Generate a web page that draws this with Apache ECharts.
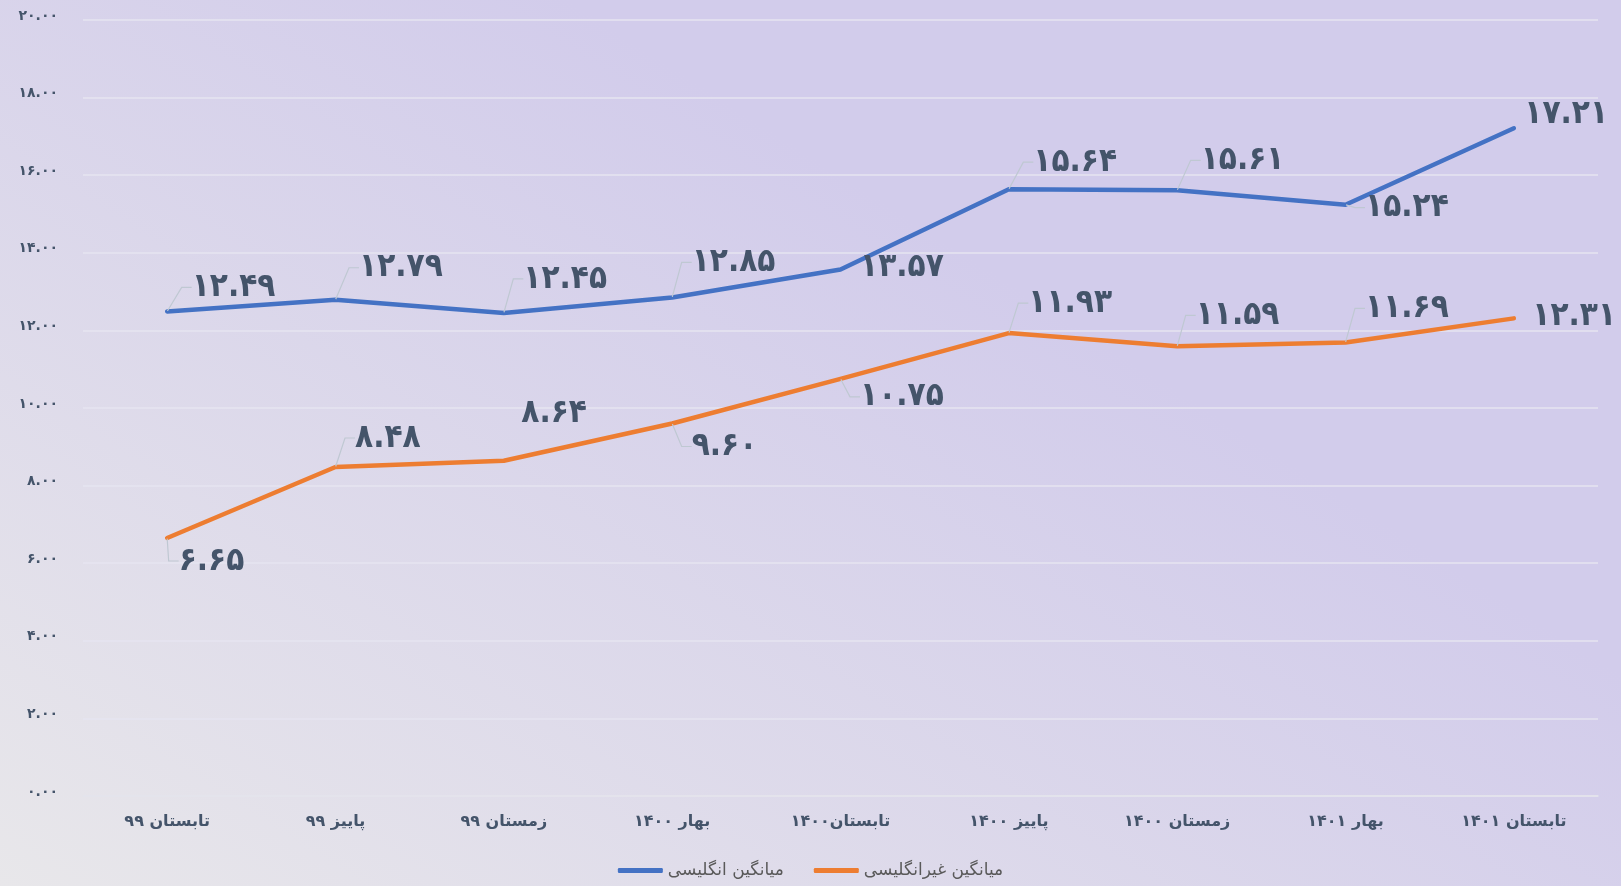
<!DOCTYPE html>
<html lang="fa">
<head>
<meta charset="utf-8">
<title>میانگین نمرات</title>
<script src="https://cdn.jsdelivr.net/npm/echarts@6/dist/echarts.min.js"></script>
<style>
  html, body { margin: 0; padding: 0; width: 100%; height: 100%; overflow: hidden; }
  #chart { width: 1621px; height: 886px; }
</style>
</head>
<body>
<div id="chart"></div>
<script>
// دسته‌ها (فصل‌ها)
const categories = ['تابستان ۹۹', 'پاییز ۹۹', 'زمستان ۹۹', 'بهار ۱۴۰۰', 'تابستان۱۴۰۰', 'پاییز ۱۴۰۰', 'زمستان ۱۴۰۰', 'بهار ۱۴۰۱', 'تابستان ۱۴۰۱']

// میانگین انگلیسی
const englishAvg = [12.49, 12.79, 12.45, 12.85, 13.57, 15.64, 15.61, 15.24, 17.21]

// میانگین غیرانگلیسی
const nonEnglishAvg = [6.65, 8.48, 8.64, 9.60, 10.75, 11.93, 11.59, 11.69, 12.31]

const seriesNames = ['میانگین انگلیسی', 'میانگین غیرانگلیسی']

// محور عمودی
const yMin = 0
const yMax = 20
const yStep = 2

// جابجایی برچسب‌ها نسبت به نقطه [dx, dy]
const englishLabelShift = [[19, -24], [18, -32], [14, -34], [14, -35], [14, -2], [19, -27], [18, -30], [14, 3], [5, -14]]
const nonEnglishLabelShift = [[6, 23], [14, -29], [12, -47], [14, 23], [14, 18], [14, -30], [13, -31], [14, -34], [13, -2]]
// برچسب‌هایی که خط راهنما ندارند
const noGuide = [[4, 8], [2, 8]]

const faDigits = '۰۱۲۳۴۵۶۷۸۹'
function toFa (v) {
  return String(v).replace(/[0-9]/g, d => faDigits[d])
}

const textColor = '#44546A'
const fontFa = '"DejaVu Sans", "Noto Sans", sans-serif'
const fontLabel = '"DejaVu Sans Condensed", "DejaVu Sans", sans-serif'

function buildData (values, seriesIndex) {
  return values.map((v, i) => ({
    value: v,
    labelLine: { show: noGuide[seriesIndex].indexOf(i) === -1 }
  }))
}

function buildSeries (name, values, color, shift, seriesIndex) {
  return {
    name: name,
    type: 'line',
    data: buildData(values, seriesIndex),
    symbol: 'circle',
    symbolSize: 1,
    showSymbol: true,
    itemStyle: { color: color },
    lineStyle: { color: color, width: 4.5, cap: 'round', join: 'round' },
    label: {
      show: true,
      position: 'right',
      distance: 0,
      padding: [0, 0, 0, 5],
      formatter: p => toFa(p.value.toFixed(2)),
      fontFamily: fontLabel,
      fontWeight: 'bold',
      fontSize: 33,
      color: textColor
    },
    labelLine: {
      show: true,
      length2: 10,
      lineStyle: { color: '#BFC8D2', width: 1.2 }
    },
    labelLayout: function (params) {
      const s = shift[params.dataIndex]
      return { dx: s[0], dy: s[1] }
    },
    emphasis: { disabled: true }
  }
}

const chart = echarts.init(document.getElementById('chart'))

const option = {
  backgroundColor: {
    type: 'linear',
    x: 0, y: 1, x2: 0.35, y2: 0,
    colorStops: [
      { offset: 0, color: '#E8E7EA' },
      { offset: 1, color: '#D2CCEB' }
    ]
  },
  animation: false,
  grid: { left: 83, right: 23, top: 20, bottom: 90 },
  legend: {
    bottom: 2,
    left: 'center',
    icon: 'roundRect',
    itemWidth: 45,
    itemHeight: 5,
    itemGap: 30,
    textStyle: { fontFamily: fontFa, fontSize: 17, color: '#595959' },
    data: seriesNames
  },
  xAxis: {
    type: 'category',
    data: categories,
    boundaryGap: true,
    axisLine: { show: true, lineStyle: { color: '#E3E3EC', width: 1.5 } },
    axisTick: { show: false },
    axisLabel: {
      margin: 18,
      fontFamily: fontFa,
      fontWeight: 'bold',
      fontSize: 16,
      color: textColor,
      interval: 0
    }
  },
  yAxis: {
    type: 'value',
    min: yMin,
    max: yMax,
    interval: yStep,
    axisLine: { show: false },
    axisTick: { show: false },
    splitLine: { lineStyle: { color: '#E6E5F0', width: 1.5 } },
    axisLabel: {
      margin: 25,
      verticalAlign: 'bottom',
      padding: [0, 0, -3, 0],
      fontFamily: fontFa,
      fontWeight: 'bold',
      fontSize: 14,
      color: textColor,
      formatter: v => toFa(v.toFixed(2))
    }
  },
  series: [
    buildSeries(seriesNames[0], englishAvg, '#4472C4', englishLabelShift, 0),
    buildSeries(seriesNames[1], nonEnglishAvg, '#ED7D31', nonEnglishLabelShift, 1)
  ]
}

chart.setOption(option)
window.addEventListener('resize', () => chart.resize())
</script>
</body>
</html>
